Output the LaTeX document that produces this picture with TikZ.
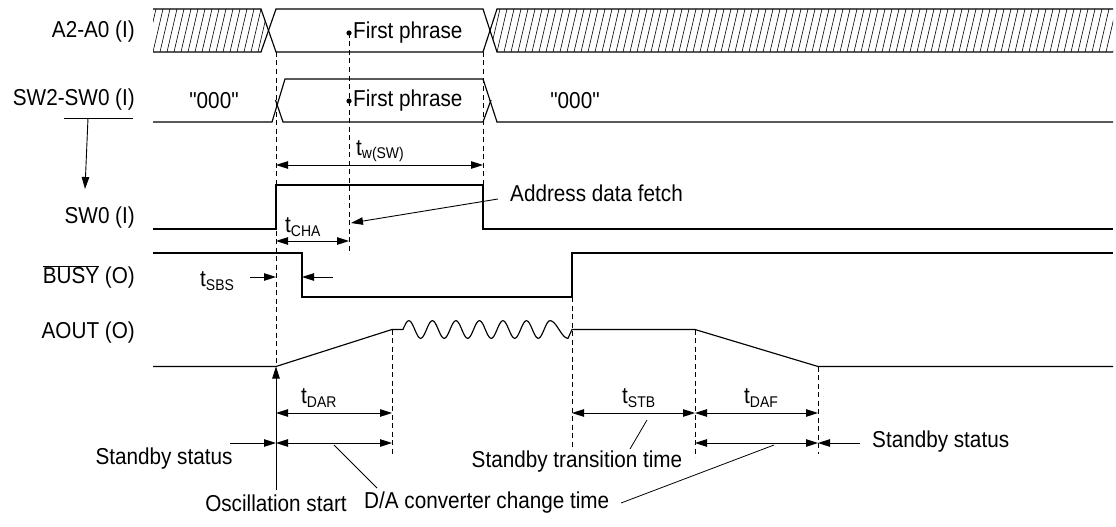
\documentclass[tikz,border=0pt]{standalone}
\usepackage{fontspec}
\setmainfont{Liberation Sans}[FakeStretch=0.9, Ligatures=TeXOff]
\usetikzlibrary{arrows.meta}
\newcommand{\tsb}[1]{t\raisebox{-3.5pt}{\fontsize{15.5}{16}\selectfont #1}}
\tikzset{
  sig/.style={line width=1.15pt, line join=miter},
  hatchline/.style={line width=0.6pt},
  dline/.style={line width=0.8pt, dash pattern=on 5pt off 3.5pt},
  dim/.style={line width=0.9pt, {Triangle[length=12pt,width=7.5pt]}-{Triangle[length=12pt,width=7.5pt]}},
  arr/.style={line width=0.9pt, -{Triangle[length=12pt,width=7.5pt]}},
  leader/.style={line width=0.8pt},
  lbl/.style={font=\fontsize{23}{25}\selectfont, inner sep=0pt}
}
\begin{document}
\begin{tikzpicture}[x=1pt,y=-1pt]
\useasboundingbox (0,0) rectangle (1116,527);

% signal labels
\node[lbl,anchor=east] (lA) at (135,32) {A2-A0 (I)};
\node[lbl,anchor=east] (lSW) at (135,100) {SW2-SW0 (I)};
\node[lbl,anchor=east] (lSW0) at (135,218) {SW0 (I)};
\node[lbl,anchor=east] (lB) at (135,277) {$\overline{\mbox{BUSY}}$ (O)};
\node[lbl,anchor=east] (lAO) at (135,333) {AOUT (O)};

% A2-A0 hatching
\begin{scope}
\clip (153,9) -- (261,9) -- (268.5,30.5) -- (261,52) -- (153,52) -- cycle;
\foreach \i in {0,...,20} \draw[hatchline] ({146+7*\i},52) -- ({156+7*\i},9);
\end{scope}
\begin{scope}
\clip (1113,9) -- (497,9) -- (490,30.5) -- (497,52) -- (1113,52) -- cycle;
\foreach \i in {0,...,90} \draw[hatchline] ({483+7*\i},52) -- ({493+7*\i},9);
\end{scope}
\draw[sig] (153,9) -- (261,9) -- (276,52) -- (483,52) -- (497,9) -- (1113,9);
\draw[sig] (153,52) -- (261,52) -- (276,9) -- (483,9) -- (497,52) -- (1113,52);
\fill (349,33) circle (2.6);
\node[lbl,anchor=west] (fp1) at (353,33) {First phrase};

% SW2-SW0
\draw[sig] (153,122) -- (272,122) -- (285,79) -- (483,79) -- (497,122) -- (1113,122);
\draw[sig] (275.5,100) -- (283,122) -- (483,122) -- (491,100);
\fill (349,101) circle (2.6);
\node[lbl,anchor=west] (fp2) at (353,101) {First phrase};
\node[lbl] (z1) at (214,101) {"000"};
\node[lbl] (z2) at (575,101) {"000"};
\coordinate (ulA) at (64,118);
\coordinate (ulB) at (133,118);
\coordinate (ulC) at (88,118);
\coordinate (swTip) at (85,189);
\draw[leader] (ulA) -- (ulB);
\draw[arr] (ulC) -- (swTip);

% SW0
\draw[sig] (153,229) -- (276,229) -- (276,185) -- (483,185) -- (483,229) -- (1113,229);
% BUSY
\draw[sig] (153,253) -- (302,253) -- (302,297) -- (572,297) -- (572,253) -- (1113,253);
% AOUT
\draw[sig] (153,366.5) -- (276,366.5) -- (392,329.5) -- (403,329.5)
  -- plot[domain=403:550,samples=150] (\x,{329.5-8.8*sin((\x-403)/23.52*360)})
  -- plot[domain=550:568,samples=30] (\x,{329.5-8.8*cos((\x-550)/18*180)})
  -- (572,329.5) -- (695,329.5) -- (818,366.5) -- (1113,366.5);

% dashed guides
\draw[dline] (276,52) -- (276,366.5);
\draw[dline] (349,33) -- (349,253);
\draw[dline] (483,52) -- (483,185);
\draw[dline] (392,329.5) -- (392,456);
\draw[dline] (572,297) -- (572,450);
\draw[dline] (695,329.5) -- (695,457);
\draw[dline] (818,366.5) -- (818,454);

% named timing points
\coordinate (tw1) at (276,165); \coordinate (tw2) at (483,165);
\coordinate (ch1) at (276,241); \coordinate (ch2) at (349,241);
\coordinate (sb1) at (250,277); \coordinate (sb2) at (276,277);
\coordinate (sb3) at (333,277); \coordinate (sb4) at (302,277);
\coordinate (ad1) at (498,199); \coordinate (ad2) at (351,223);
\coordinate (dr1) at (276,413); \coordinate (dr2) at (392,413);
\coordinate (st1) at (572,413); \coordinate (st2) at (695,413);
\coordinate (df1) at (695,413); \coordinate (df2) at (818,413);
\coordinate (sl0) at (230,443); \coordinate (sl1) at (276,443); \coordinate (sl2) at (392,443);
\coordinate (sr1) at (695,443); \coordinate (sr2) at (818,443); \coordinate (sr3) at (860,443);
\coordinate (os0) at (276,490); \coordinate (os1) at (276,366.5);

\draw[dim] (tw1) -- (tw2);
\node[lbl,anchor=west] (ltw) at (356,151) {\tsb{w(SW)}};
\draw[dim] (ch1) -- (ch2);
\node[lbl,anchor=west] (lch) at (285,227) {\tsb{CHA}};
\draw[arr] (sb1) -- (sb2);
\draw[arr] (sb3) -- (sb4);
\node[lbl,anchor=west] (lsb) at (200,281) {\tsb{SBS}};
\draw[arr] (ad1) -- (ad2);
\node[lbl,anchor=west] (lad) at (510,193) {Address data fetch};

\draw[dim] (dr1) -- (dr2);
\node[lbl,anchor=west] (ldr) at (301,398) {\tsb{DAR}};
\draw[dim] (st1) -- (st2);
\node[lbl,anchor=west] (lst) at (622,398) {\tsb{STB}};
\draw[dim] (df1) -- (df2);
\node[lbl,anchor=west] (ldf) at (744,398) {\tsb{DAF}};

\draw[arr] (sl0) -- (sl1);
\draw[dim] (sl1) -- (sl2);
\node[lbl] (lsl) at (164,459) {Standby status};
\draw[dim] (sr1) -- (sr2);
\draw[arr] (sr3) -- (sr2);
\node[lbl,anchor=west] (lsr) at (872,442) {Standby status};

\draw[arr] (os0) -- (os1);
\node[lbl] (los) at (276,503) {Oscillation start};
\node[lbl,anchor=west] (lda) at (364,503) {D/A converter change time};
\node[lbl] (lstt) at (577,462) {Standby transition time};

\coordinate (ld1) at (334,445); \coordinate (ld2) at (377,488);
\coordinate (ld3) at (774,445); \coordinate (ld4) at (621,503);
\coordinate (ls1) at (647,420); \coordinate (ls2) at (630,449);
\draw[leader] (ld1) -- (ld2);
\draw[leader] (ld3) -- (ld4);
\draw[leader] (ls1) -- (ls2);
\end{tikzpicture}
\end{document}
